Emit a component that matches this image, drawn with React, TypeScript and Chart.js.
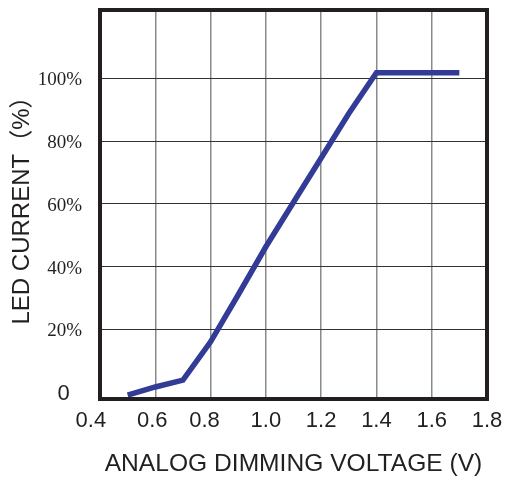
import { useEffect, useRef } from "react";
import { Chart, registerables } from "chart.js";

Chart.register(...registerables);

const voltages = [0.5, 0.6, 0.7, 0.8, 0.9, 1.0, 1.1, 1.2, 1.3, 1.4, 1.7];
const currents = [-1, 1.6, 3.8, 16, 31, 46.3, 60.5, 74.6, 88.8, 101.8, 101.8];

const xTickValues = [0.4, 0.6, 0.8, 1.0, 1.2, 1.4, 1.6, 1.8];
const xTickLabels = ["0.4   ", "0.6 ", "0.8  ", "1.0", "1.2", "1.4", "1.6", "1.8"];
const yTickValues = [0, 20, 40, 60, 80, 100];
const yTickLabels = ["0  ", "20%", "40%", "60%", "80%", "100%"];

const xTitle = "ANALOG DIMMING VOLTAGE (V)";
const yTitle = "LED CURRENT（%）";

const SANS = "'Liberation Sans', Arial, 'Noto Sans CJK SC', sans-serif";
const SERIF = "'Liberation Serif', 'Times New Roman', serif";
const INK = "#231f20";

const framePlugin = {
  id: "frame",
  afterDraw(chart: any) {
    const { ctx, chartArea } = chart;
    const { left, top, right, bottom } = chartArea;
    ctx.save();
    ctx.strokeStyle = INK;
    ctx.lineWidth = 4;
    ctx.strokeRect(left, top, right - left, bottom - top);
    ctx.restore();
  },
};

export default function App() {
  const ref = useRef<HTMLCanvasElement | null>(null);

  useEffect(() => {
    if (!ref.current) return;
    const chart = new Chart(ref.current, {
      type: "line",
      data: {
        datasets: [
          {
            data: voltages.map((v, i) => ({ x: v, y: currents[i] })),
            borderColor: "#323c96",
            backgroundColor: "#323c96",
            borderWidth: 5.5,
            pointRadius: 0,
            tension: 0,
            fill: false,
            borderCapStyle: "butt",
            borderJoinStyle: "miter",
          },
        ],
      },
      options: {
        animation: false,
        responsive: false,
        devicePixelRatio: 1,
        layout: { padding: { left: 0, top: 10, right: 22, bottom: 0 } },
        plugins: {
          legend: { display: false },
          tooltip: { enabled: false },
        },
        scales: {
          x: {
            type: "linear",
            min: 0.4,
            max: 1.8,
            afterBuildTicks: (scale: any) => {
              scale.ticks = xTickValues.map((v) => ({ value: v }));
            },
            afterFit: (scale: any) => {
              scale.height = 82;
              scale.paddingLeft = 0;
              scale.paddingRight = 0;
            },
            ticks: {
              autoSkip: false,
              maxRotation: 0,
              padding: 9,
              color: INK,
              font: { family: SANS, size: 22 },
              callback: (_v: any, i: number) => xTickLabels[i],
            },
            grid: { color: "#8a8a8a", lineWidth: 1.5, drawTicks: false },
            border: { display: false },
            title: {
              display: true,
              text: xTitle,
              color: INK,
              font: { family: SANS, size: 24.6 },
              padding: { top: 0, bottom: 2 },
            },
          },
          y: {
            type: "linear",
            min: -2.23,
            max: 121.77,
            afterBuildTicks: (scale: any) => {
              scale.ticks = yTickValues.map((v) => ({ value: v }));
            },
            afterFit: (scale: any) => {
              scale.width = 100;
              scale.paddingTop = 0;
              scale.paddingBottom = 0;
            },
            ticks: {
              autoSkip: false,
              padding: 18,
              labelOffset: 2,
              color: INK,
              font: (ctx: any) =>
                ctx.index === 0
                  ? { family: SANS, size: 22 }
                  : { family: SERIF, size: 19 },
              callback: (_v: any, i: number) => yTickLabels[i],
            },
            grid: {
              color: (ctx: any) =>
                ctx.tick && ctx.tick.value === 0 ? "rgba(0,0,0,0)" : "#333333",
              lineWidth: 1,
              drawTicks: false,
            },
            border: { display: false },
            title: {
              display: true,
              text: yTitle,
              color: INK,
              font: { family: SANS, size: 24 },
              padding: { top: 8, bottom: 0 },
            },
          },
        },
      },
      plugins: [framePlugin],
    } as any);
    return () => chart.destroy();
  }, []);

  return (
    <div style={{ position: "absolute", left: 0, top: 0, width: 509, height: 481, background: "#fff" }}>
      <canvas ref={ref} width={509} height={481} style={{ display: "block", width: 509, height: 481 }} />
    </div>
  );
}
